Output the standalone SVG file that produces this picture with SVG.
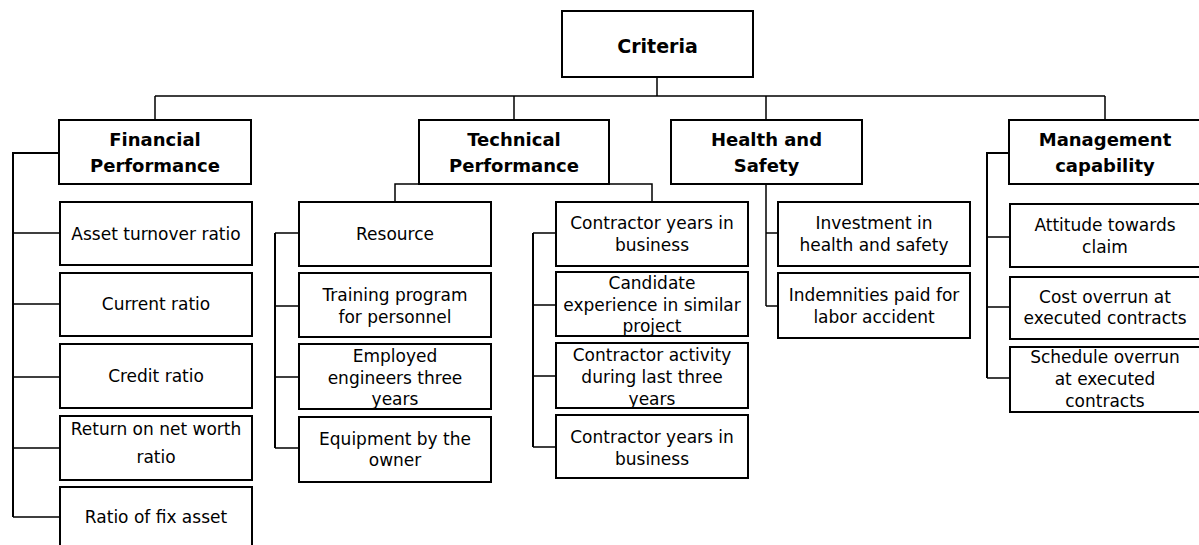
<svg xmlns="http://www.w3.org/2000/svg" width="1199" height="545" viewBox="0 0 1199 545">
<style>
.box{fill:#fff;stroke:#000;stroke-width:2}
.ln{fill:none;stroke:#000;stroke-width:1.5}
.br{fill:none;stroke:#000;stroke-width:2}
.hd{font-family:"DejaVu Sans","Liberation Sans",sans-serif;font-weight:bold;font-size:18px;text-anchor:middle;fill:#000}
.tx{font-family:"DejaVu Sans","Liberation Sans",sans-serif;font-size:17px;text-anchor:middle;fill:#000}
</style>
<rect width="1199" height="545" fill="#fff"/>
<g id="connectors">
<path class="ln" d="M657,77V96M155,96H1105M155,96V120M514,96V120M766,96V120M1105,96V120"/>
<path class="br" d="M59,153H13V517"/>
<path class="ln" d="M13,233H60M13,304H60M13,377H60M13,448H60M13,517H60"/>
<path class="ln" d="M395,202V184H652V202"/>
<path class="br" d="M275,233V448"/>
<path class="ln" d="M275,233H299M275,306H299M275,377H299M275,448H299"/>
<path class="br" d="M533,233V447"/>
<path class="ln" d="M533,233H556M533,305H556M533,376H556M533,447H556"/>
<path class="ln" d="M766,184V306M766,233H778M766,306H778"/>
<path class="br" d="M1009,153H987V378"/>
<path class="ln" d="M987,237H1010M987,307H1010M987,378H1010"/>
</g>
<g id="criteria"><rect class="box" x="562" y="11" width="191" height="66"/><text class="hd" x="657.5" y="53" style="font-size:19px">Criteria</text></g>
<g id="financial"><rect class="box" x="59" y="120" width="192" height="64"/><text class="hd" x="155" y="146">Financial</text><text class="hd" x="155" y="172">Performance</text></g>
<g id="technical"><rect class="box" x="419" y="120" width="190" height="64"/><text class="hd" x="514" y="146">Technical</text><text class="hd" x="514" y="172">Performance</text></g>
<g id="health"><rect class="box" x="671" y="120" width="191" height="64"/><text class="hd" x="766.5" y="146">Health and</text><text class="hd" x="766.5" y="172">Safety</text></g>
<g id="management"><rect class="box" x="1009" y="120" width="192" height="64"/><text class="hd" x="1105" y="146">Management</text><text class="hd" x="1105" y="172">capability</text></g>

<g id="f1"><rect class="box" x="60" y="202" width="192" height="63"/><text class="tx" x="156" y="239.5">Asset turnover ratio</text></g>
<g id="f2"><rect class="box" x="60" y="273" width="192" height="63"/><text class="tx" x="156" y="310">Current ratio</text></g>
<g id="f3"><rect class="box" x="60" y="344" width="192" height="64"/><text class="tx" x="156" y="382">Credit ratio</text></g>
<g id="f4"><rect class="box" x="60" y="416" width="192" height="64"/><text class="tx" x="156" y="435">Return on net worth</text><text class="tx" x="156" y="463">ratio</text></g>
<g id="f5"><rect class="box" x="60" y="487" width="192" height="64"/><text class="tx" x="156" y="523">Ratio of fix asset</text></g>

<g id="t1"><rect class="box" x="299" y="202" width="192" height="64"/><text class="tx" x="395" y="240">Resource</text></g>
<g id="t2"><rect class="box" x="299" y="273" width="192" height="64"/><text class="tx" x="395" y="301">Training program</text><text class="tx" x="395" y="323">for personnel</text></g>
<g id="t3"><rect class="box" x="299" y="344" width="192" height="65"/><text class="tx" x="395" y="362">Employed</text><text class="tx" x="395" y="384">engineers three</text><text class="tx" x="395" y="405">years</text></g>
<g id="t4"><rect class="box" x="299" y="417" width="192" height="65"/><text class="tx" x="395" y="445">Equipment by the</text><text class="tx" x="395" y="466">owner</text></g>

<g id="t5"><rect class="box" x="556" y="202" width="192" height="64"/><text class="tx" x="652" y="229">Contractor years in</text><text class="tx" x="652" y="251">business</text></g>
<g id="t6"><rect class="box" x="556" y="272" width="192" height="64"/><text class="tx" x="652" y="289">Candidate</text><text class="tx" x="652" y="311">experience in similar</text><text class="tx" x="652" y="332">project</text></g>
<g id="t7"><rect class="box" x="556" y="343" width="192" height="65"/><text class="tx" x="652" y="361">Contractor activity</text><text class="tx" x="652" y="383">during last three</text><text class="tx" x="652" y="405">years</text></g>
<g id="t8"><rect class="box" x="556" y="415" width="192" height="63"/><text class="tx" x="652" y="443">Contractor years in</text><text class="tx" x="652" y="465">business</text></g>

<g id="h1"><rect class="box" x="778" y="202" width="192" height="64"/><text class="tx" x="874" y="229">Investment in</text><text class="tx" x="874" y="251">health and safety</text></g>
<g id="h2"><rect class="box" x="778" y="273" width="192" height="65"/><text class="tx" x="874" y="301">Indemnities paid for</text><text class="tx" x="874" y="323">labor accident</text></g>

<g id="m1"><rect class="box" x="1010" y="204" width="192" height="63"/><text class="tx" x="1105" y="231">Attitude towards</text><text class="tx" x="1105" y="253">claim</text></g>
<g id="m2"><rect class="box" x="1010" y="277" width="192" height="62"/><text class="tx" x="1105" y="303">Cost overrun at</text><text class="tx" x="1105" y="324">executed contracts</text></g>
<g id="m3"><rect class="box" x="1010" y="347" width="192" height="65"/><text class="tx" x="1105" y="363">Schedule overrun</text><text class="tx" x="1105" y="385">at executed</text><text class="tx" x="1105" y="407">contracts</text></g>
</svg>
